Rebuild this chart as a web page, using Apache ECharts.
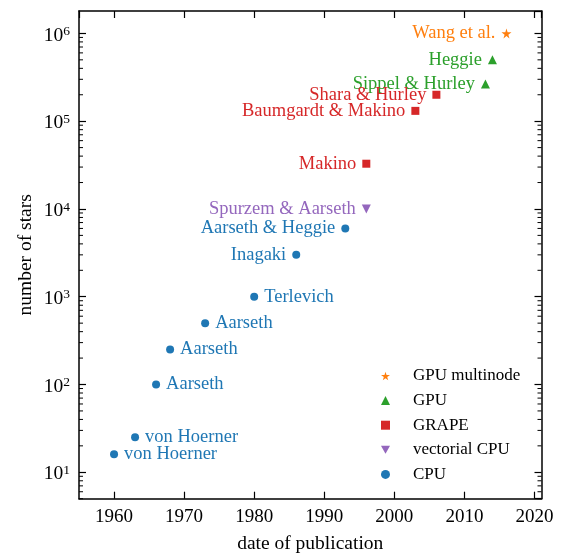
<!DOCTYPE html>
<html>
<head>
<meta charset="utf-8">
<script src="https://cdn.jsdelivr.net/npm/echarts@6/dist/echarts.min.js"></script>
<style>
html, body { margin: 0; padding: 0; background: #fff; }
#main { width: 565px; height: 554px; }
</style>
</head>
<body>
<div id="main"></div>
<script>
// data
var cpuNames = ['von Hoerner', 'von Hoerner', 'Aarseth', 'Aarseth', 'Aarseth', 'Terlevich', 'Inagaki', 'Aarseth & Heggie'];
var cpuYears = [1960, 1963, 1966, 1968, 1973, 1980, 1986, 1993];
var cpuStars = [16, 25, 100, 250, 500, 1000, 3000, 6000];

var vecNames = ['Spurzem & Aarseth'];
var vecYears = [1996];
var vecStars = [10000];

var grapeNames = ['Makino', 'Baumgardt & Makino', 'Shara & Hurley'];
var grapeYears = [1996, 2003, 2006];
var grapeStars = [32768, 131072, 200000];

var gpuNames = ['Sippel & Hurley', 'Heggie'];
var gpuYears = [2013, 2014];
var gpuStars = [265000, 500000];

var multiNames = ['Wang et al.'];
var multiYears = [2016];
var multiStars = [1000000];

var legendNames = ['GPU multinode', 'GPU', 'GRAPE', 'vectorial CPU', 'CPU'];

// minor ticks of the log axis (2..9 per decade)
var minorTicks = [5, 6, 7, 8, 9,
  20, 30, 40, 50, 60, 70, 80, 90,
  200, 300, 400, 500, 600, 700, 800, 900,
  2000, 3000, 4000, 5000, 6000, 7000, 8000, 9000,
  20000, 30000, 40000, 50000, 60000, 70000, 80000, 90000,
  200000, 300000, 400000, 500000, 600000, 700000, 800000, 900000];

var xMin = 1955, xMax = 2021;
var yMin = 5, yMax = 1.8e6;
var serif = 'Liberation Serif';

var starPath = 'path://M50,0 L61,35 L98,35 L68,57 L79,91 L50,70 L21,91 L32,57 L2,35 L39,35 Z';
var downTri = 'path://M0,0 L10,0 L5,9 Z';

function points(names, years, stars, side) {
    return names.map(function (n, i) {
        return {
            name: n,
            value: [years[i], stars[i]],
            label: { position: side ? side(stars[i]) : 'left' }
        };
    });
}

function scatter(name, color, symbol, size, data) {
    return {
        name: name,
        type: 'scatter',
        symbol: symbol,
        symbolSize: size,
        itemStyle: { color: color, opacity: 1 },
        label: {
            show: true,
            formatter: '{b}',
            distance: 6,
            color: color,
            fontSize: 18.5,
            fontFamily: serif
        },
        emphasis: { disabled: true },
        data: data
    };
}

var myChart = echarts.init(document.getElementById('main'));

var tickStyle = { color: '#000', width: 1.2 };
var lineStyle = { color: '#000', width: 1.5 };

var options = {
    animation: false,
    grid: { left: 79, right: 23.5, top: 11, bottom: 55.3, outerBoundsMode: 'none', containLabel: false },
    legend: {
        orient: 'vertical',
        left: 376,
        top: 361,
        itemWidth: 9,
        itemHeight: 9,
        itemGap: 4.6,
        data: legendNames,
        textStyle: { color: '#000', fontSize: 17, fontFamily: serif, lineHeight: 20, padding: [0, 0, 0, 18] }
    },
    xAxis: [{
        type: 'value',
        min: xMin,
        max: xMax,
        minInterval: 10,
        maxInterval: 10,
        name: 'date of publication',
        nameLocation: 'middle',
        nameGap: 35,
        nameMoveOverlap: false,
        nameTextStyle: { color: '#000', fontSize: 19.5, fontFamily: serif },
        axisLine: { lineStyle: lineStyle },
        axisTick: { inside: true, length: 7, lineStyle: tickStyle },
        axisLabel: {
            margin: 9, showMinLabel: false, showMaxLabel: false,
            color: '#000', fontSize: 19, fontFamily: serif,
            formatter: function (v) { return String(v); }
        },
        splitLine: { show: false }
    }, {
        type: 'value',
        position: 'top',
        min: xMin,
        max: xMax,
        minInterval: 10,
        maxInterval: 10,
        axisLine: { lineStyle: lineStyle },
        axisTick: { inside: true, length: 7, lineStyle: tickStyle },
        axisLabel: { show: false },
        splitLine: { show: false }
    }],
    yAxis: [{
        type: 'log',
        min: yMin,
        max: yMax,
        name: 'number of stars',
        nameLocation: 'middle',
        nameGap: 43,
        nameMoveOverlap: false,
        nameTextStyle: { color: '#000', fontSize: 19.5, fontFamily: serif },
        axisLine: { lineStyle: lineStyle },
        axisTick: { inside: true, length: 7, lineStyle: tickStyle },
        axisLabel: {
            margin: 9,
            showMinLabel: false,
            showMaxLabel: false,
            formatter: function (v) {
                var e = Math.log10(v);
                if (Math.abs(e - Math.round(e)) > 1e-6) return '';
                return '{b|10}{e|' + Math.round(e) + '}';
            },
            rich: {
                b: { color: '#000', fontSize: 19.5, fontFamily: serif, lineHeight: 24, padding: [4, 0, 0, 0] },
                e: { color: '#000', fontSize: 13.5, fontFamily: serif, lineHeight: 13, verticalAlign: 'top', padding: [3, 0, 0, 0] }
            }
        },
        splitLine: { show: false }
    }, {
        type: 'log',
        position: 'right',
        min: yMin,
        max: yMax,
        axisLine: { lineStyle: lineStyle },
        axisTick: { inside: true, length: 7, lineStyle: tickStyle },
        axisLabel: { show: false },
        splitLine: { show: false }
    }],
    series: [
        scatter('GPU multinode', '#ff7f0e', starPath, 10, points(multiNames, multiYears, multiStars)),
        scatter('GPU', '#2ca02c', 'triangle', 9, points(gpuNames, gpuYears, gpuStars)),
        scatter('GRAPE', '#d62728', 'rect', 8, points(grapeNames, grapeYears, grapeStars)),
        scatter('vectorial CPU', '#9467bd', downTri, 9, points(vecNames, vecYears, vecStars)),
        scatter('CPU', '#1f77b4', 'circle', 8, points(cpuNames, cpuYears, cpuStars, function (s) {
            return s <= 1000 ? 'right' : 'left';
        })),
        {
            type: 'custom',
            silent: true,
            clip: false,
            data: minorTicks.map(function (v) { return [xMin, v]; }),
            renderItem: function (params, api) {
                var v = api.value(1);
                var l = api.coord([xMin, v]);
                var r = api.coord([xMax, v]);
                return {
                    type: 'group',
                    children: [
                        { type: 'line', shape: { x1: l[0], y1: l[1], x2: l[0] + 4, y2: l[1] }, style: { stroke: '#000', lineWidth: 1 } },
                        { type: 'line', shape: { x1: r[0], y1: r[1], x2: r[0] - 4, y2: r[1] }, style: { stroke: '#000', lineWidth: 1 } }
                    ]
                };
            }
        }
    ]
};
myChart.setOption(options);
</script>
</body>
</html>
